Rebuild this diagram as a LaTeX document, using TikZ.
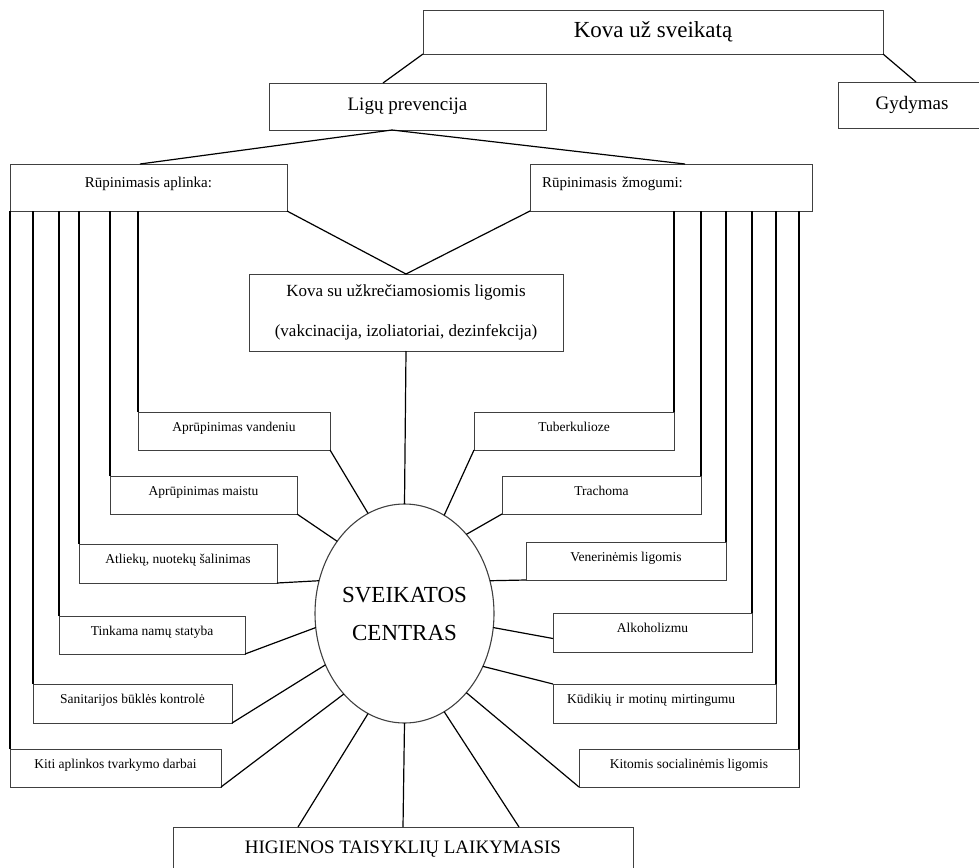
\documentclass[tikz,border=0pt]{standalone}
\usepackage{fontspec}
\setmainfont{Liberation Serif}
\usetikzlibrary{calc}
\usetikzlibrary{shapes.geometric}

\begin{document}
\begin{tikzpicture}[x=1pt,y=-1pt,
        box/.style={draw=black!75, line width=0.9pt, inner sep=0pt, outer sep=0pt},
        smallbox/.style={box, minimum height=38pt, font=\fontsize{13.5}{16}\selectfont, text height=9.5pt, text depth=9.5pt},
        midbox/.style={box, minimum height=47pt, font=\fontsize{15}{18}\selectfont, text height=10pt, text depth=10pt},
        link/.style={line width=1.2pt},
        stem/.style={line width=1.9pt}]
        \useasboundingbox (0,0) rectangle (979,867);
        % top levels
        \node[box, minimum width=460pt, minimum height=44pt, font=\fontsize{23}{27}\selectfont] (kova) at (653,32) {Kova už sveikatą};
        \node[box, minimum width=148pt, minimum height=46pt, font=\fontsize{19}{22}\selectfont] (gyd) at (912,105) {Gydymas};
        \node[box, minimum width=277pt, minimum height=47pt, font=\fontsize{19}{22}\selectfont] (ligu) at (407.5,106.5) {Ligų prevencija};
        \node[midbox, minimum width=277pt] (aplinka) at (148.5,187.5) {Rūpinimasis aplinka:};
        \node[midbox, text width=258pt, inner xsep=12pt, align=left] (zmog) at (671,187.5) {Rūpinimasis žmogumi:};
        \node[box, minimum width=314pt, minimum height=77pt, align=center, font=\fontsize{17}{40}\selectfont] (uzkr) at (406,312.5) {Kova su užkrečiamosiomis ligomis\\(vakcinacija, izoliatoriai, dezinfekcija)};
        \node[box, ellipse, line width=1.1pt, minimum width=179pt, minimum height=219pt, align=center, font=\fontsize{23}{38}\selectfont] (centras) at (404.5,613.5) {SVEIKATOS\\CENTRAS};
        \node[box, minimum width=460pt, minimum height=44pt, font=\fontsize{19}{22}\selectfont] (hig) at (403,849) {HIGIENOS TAISYKLIŲ LAIKYMASIS};
        % left column
        \node[smallbox, minimum width=192pt] (vand) at (234,431) {Aprūpinimas vandeniu};
        \node[smallbox, minimum width=187pt] (maist) at (203.5,495) {Aprūpinimas maistu};
        \node[smallbox, minimum width=198pt, minimum height=39pt] (atl) at (178,563.5) {Atliekų, nuotekų šalinimas};
        \node[smallbox, minimum width=186pt] (tink) at (152,635) {Tinkama namų statyba};
        \node[smallbox, minimum width=199pt, minimum height=39pt] (sanit) at (132.5,703.5) {Sanitarijos būklės kontrolė};
        \node[smallbox, minimum width=211pt] (kiti) at (115.5,768) {Kiti aplinkos tvarkymo darbai};
        % right column
        \node[smallbox, minimum width=200pt] (tuber) at (574,431) {Tuberkulioze};
        \node[smallbox, minimum width=199pt] (trach) at (601.5,495) {Trachoma};
        \node[smallbox, minimum width=200pt] (vener) at (626,561) {Venerinėmis ligomis};
        \node[smallbox, minimum width=199pt, minimum height=39pt] (alko) at (652.5,632.5) {Alkoholizmu};
        \node[smallbox, minimum height=39pt, text width=195pt, inner xsep=14pt, align=left] (kudik) at (664.5,703.5) {Kūdikių ir motinų mirtingumu};
        \node[smallbox, minimum width=220pt] (kitsoc) at (689,768) {Kitomis socialinėmis ligomis};
        % tree links
        \draw[link] (kova.south west) -- ($(ligu.north west)+(114,0)$);
        \draw[link] (kova.south east) -- ($(gyd.north west)+(78,0)$);
        \draw[link] ($(aplinka.north west)+(130,0)$) -- ($(ligu.south west)+(123,0)$) -- ($(zmog.north west)+(155,0)$);
        \draw[link] (aplinka.south east) -- (uzkr.north) -- (zmog.south west);
        \draw[link] (uzkr.south) -- (centras.north);
        % stems
        \foreach \b in {vand,maist,atl,tink,sanit,kiti}
            \draw[stem] (\b.north west) -- (\b.north west |- aplinka.south);
        \foreach \b in {tuber,trach,vener,alko,kudik,kitsoc}
            \draw[stem] (\b.north east) -- (\b.north east |- zmog.south);
        % spokes
        \draw[link] (vand.south east) -- (centras.110);
        \draw[link] (maist.south east) -- (centras.133);
        \draw[link] (atl.south east) -- (centras.159);
        \draw[link] (tink.south east) -- (centras.189);
        \draw[link] (sanit.south east) -- (centras.213);
        \draw[link] (kiti.south east) -- (centras.233);
        \draw[link] (tuber.south west) -- (centras.68);
        \draw[link] (trach.south west) -- (centras.52);
        \draw[link] (vener.south west) -- (centras.21);
        \draw[link] ($(alko.west)+(0,6)$) -- (centras.351);
        \draw[link] (kudik.north west) -- (centras.326);
        \draw[link] (kitsoc.south west) -- (centras.308);
        \draw[link] (centras.250) -- ($(hig.north west)+(125,0)$);
        \draw[link] (centras.south) -- (hig.north);
        \draw[link] (centras.292) -- ($(hig.north west)+(346,0)$);
    \end{tikzpicture}
\end{document}
